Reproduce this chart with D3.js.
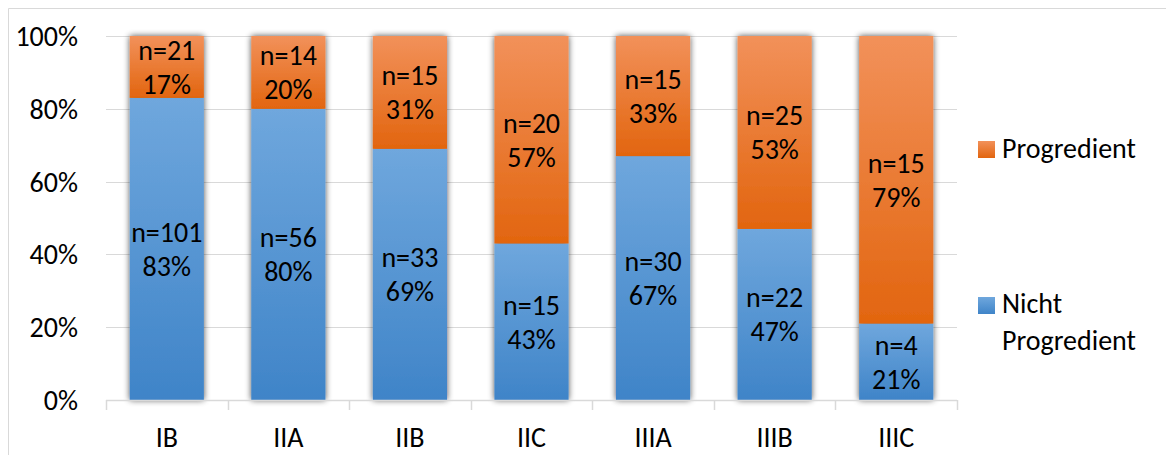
<!DOCTYPE html>
<html><head><meta charset="utf-8">
<script src="https://cdn.jsdelivr.net/npm/d3@7"></script>
<style>body{margin:0;background:#fff}svg{display:block}text{font-family:Carlito,Calibri,"Open Sans","Noto Sans",sans-serif;fill:#000}</style>
</head><body><svg id="c" width="1166" height="455"></svg>
<script>
const categories = ["IB","IIA","IIB","IIC","IIIA","IIIB","IIIC"];
const nichtN   = [101,56,33,15,30,22,4];
const nichtPct = [83,80,69,43,67,47,21];
const progN    = [21,14,15,20,15,25,15];
const progPct  = [17,20,31,57,33,53,79];
const yTicks   = [0,20,40,60,80,100];
const seriesNames = ["Progredient","Nicht Progredient"];
const FS = 28;

const svg = d3.select("#c");
const defs = svg.append("defs");
const gb = defs.append("linearGradient").attr("id","gBlue").attr("x1",0).attr("y1",0).attr("x2",0).attr("y2",1);
gb.append("stop").attr("offset","0%").attr("stop-color","#6fa7dd");
gb.append("stop").attr("offset","100%").attr("stop-color","#3f84c8");
const go = defs.append("linearGradient").attr("id","gOrange").attr("x1",0).attr("y1",0).attr("x2",0).attr("y2",1);
go.append("stop").attr("offset","0%").attr("stop-color","#f2915a");
go.append("stop").attr("offset","100%").attr("stop-color","#e2650f");
const f = defs.append("filter").attr("id","sh").attr("x","-20%").attr("y","-5%").attr("width","140%").attr("height","110%");
f.append("feGaussianBlur").attr("in","SourceAlpha").attr("stdDeviation",3).attr("result","b");
f.append("feOffset").attr("in","b").attr("dx",0).attr("dy",0).attr("result","o");
f.append("feComponentTransfer").attr("in","o").attr("result","o2").append("feFuncA").attr("type","linear").attr("slope",0.7);
const fm = f.append("feMerge"); fm.append("feMergeNode").attr("in","o2"); fm.append("feMergeNode").attr("in","SourceGraphic");

// chart border (top & left)
svg.append("path").attr("d","M8.5,455 V8.5 H1166").attr("fill","none").attr("stroke","#d9d9d9").attr("stroke-width",1);

const x = d3.scaleBand().domain(categories).range([106,957]).paddingInner(0.39).paddingOuter(0.195);
const y = d3.scaleLinear().domain([0,100]).range([400,36]);

// gridlines
svg.append("g").selectAll("line").data(yTicks.filter(d=>d>0)).join("line")
  .attr("x1",106).attr("x2",957).attr("y1",d=>Math.round(y(d))+0.5).attr("y2",d=>Math.round(y(d))+0.5)
  .attr("stroke","#d9d9d9").attr("stroke-width",1.2);

// y axis labels
const yAxis = d3.axisLeft(y).tickValues(yTicks).tickFormat(d=>d+"%").tickSize(0).tickPadding(0);
const ya = svg.append("g").attr("transform","translate(78,0)").call(yAxis);
ya.select(".domain").remove();
ya.selectAll("text").attr("font-size",FS).attr("dy","0.34em").style("font-family",null);

// bars
const data = categories.map((c,i)=>({c,i}));
const bars = svg.append("g");
data.forEach(d=>{
  const g = bars.append("g").attr("filter","url(#sh)");
  g.append("rect").attr("x",x(d.c)).attr("width",x.bandwidth())
    .attr("y",y(nichtPct[d.i])).attr("height",y(0)-y(nichtPct[d.i])).attr("fill","url(#gBlue)");
  g.append("rect").attr("x",x(d.c)).attr("width",x.bandwidth())
    .attr("y",y(100)).attr("height",y(nichtPct[d.i])-y(100)).attr("fill","url(#gOrange)");
});

// x axis
const xa = svg.append("g").attr("transform","translate(0,400)");
xa.append("line").attr("x1",106).attr("x2",957).attr("y1",0.5).attr("y2",0.5).attr("stroke","#d9d9d9").attr("stroke-width",1.5);
const step = x.step();
d3.range(categories.length+1).forEach(k=>{
  const xx = Math.round(106 + k*step)+0.5;
  xa.append("line").attr("x1",xx).attr("x2",xx).attr("y1",0).attr("y2",10).attr("stroke","#d9d9d9").attr("stroke-width",1.5);
});
const xAxis = d3.axisBottom(x).tickSize(0).tickPadding(0);
const xg = svg.append("g").attr("transform","translate(0,447)").call(xAxis);
xg.select(".domain").remove();
xg.selectAll("text").attr("font-size",FS).attr("dy","0").style("font-family",null);

// labels
const lab = svg.append("g").attr("font-size",FS).attr("text-anchor","middle");
data.forEach(d=>{
  const cx = x(d.c)+x.bandwidth()/2;
  const cb = (y(0)+y(nichtPct[d.i]))/2;
  const co = (y(100)+y(nichtPct[d.i]))/2;
  [[cb,"n="+nichtN[d.i],nichtPct[d.i]+"%"],[co,"n="+progN[d.i],progPct[d.i]+"%"]].forEach(([cy,a,b])=>{
    lab.append("text").attr("x",cx).attr("y",cy-7).text(a);
    lab.append("text").attr("x",cx).attr("y",cy+27).text(b);
  });
});

// legend
const leg = svg.append("g").attr("font-size",FS);
leg.append("rect").attr("x",978).attr("y",141).attr("width",17).attr("height",17).attr("fill","url(#gOrange)");
leg.append("text").attr("x",1002).attr("y",158).text(seriesNames[0]);
leg.append("rect").attr("x",978).attr("y",297).attr("width",17).attr("height",17).attr("fill","url(#gBlue)");
leg.append("text").attr("x",1002).attr("y",313).text("Nicht");
leg.append("text").attr("x",1002).attr("y",350).text("Progredient");
</script></body></html>
